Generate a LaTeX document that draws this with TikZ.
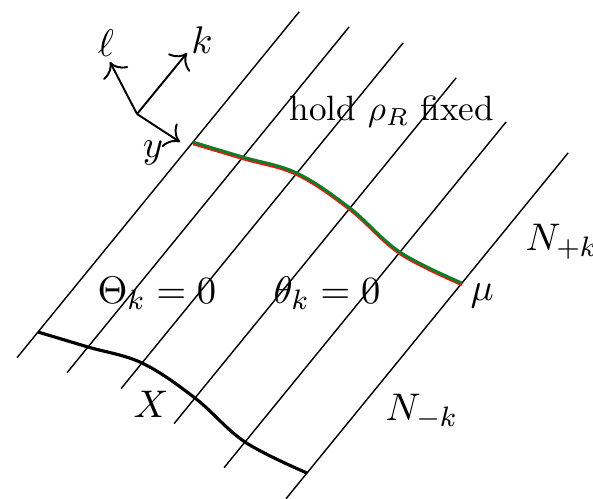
\documentclass[tikz,border=0pt]{standalone}
\usepackage{amsmath, amssymb}
\usepackage{xcolor}
\usepackage{tikz}
\usetikzlibrary{arrows.meta, positioning, calc}
\definecolor{slicegreen}{RGB}{15, 125, 35}
\definecolor{slicered}{RGB}{230, 25, 25}

\begin{document}
\begin{tikzpicture}[x=0.1mm, y=-0.1mm, >={To[scale=1.35]},
    lbl/.style={font=\fontsize{11}{13}\selectfont}]
  \useasboundingbox (0,0) rectangle (593,498);

  % Points where the upper slice crosses the null lines
  \coordinate (g1) at (193,142);
  \coordinate (g2) at (243,157);
  \coordinate (g3) at (297,173);
  \coordinate (g4) at (350,208);
  \coordinate (g5) at (400,252);
  \coordinate (g6) at (462,283);

  % Null lines, and the lower slice points on them
  \foreach \i in {1,...,6} {
    \coordinate (b\i) at ($(g\i)+(-155,190)$);
    \draw ($(b\i)!-0.135!(g\i)$) -- ($(g\i)!-0.685!(b\i)$);
  }

  % Slices
  \draw[slicered, line width=0.8pt]
    plot[smooth, tension=0.6] coordinates {([yshift=-0.5pt]g1) ([yshift=-0.5pt]g2)
      ([yshift=-0.5pt]g3) ([yshift=-0.5pt]g4) ([yshift=-0.5pt]g5) ([yshift=-0.5pt]g6)};
  \draw[slicegreen, line width=0.8pt]
    plot[smooth, tension=0.6] coordinates {(g1) (g2) (g3) (g4) (g5) (g6)};
  \draw[line width=0.9pt]
    plot[smooth, tension=0.6] coordinates {(b1) (b2) (b3) (b4) (b5) (b6)};

  % Axes
  \coordinate (o) at (137,114);
  \coordinate (ell) at (110,62);
  \coordinate (kk) at (187,53);
  \coordinate (yy) at (180,142);
  \draw[->, line width=0.55pt] (o) -- (ell);
  \draw[->, line width=0.55pt] (o) -- (kk);
  \draw[->, line width=0.55pt] (o) -- (yy);
  \node[lbl] (ell lbl) at (106,43) {$\ell$};
  \node[lbl] (k lbl) at (202,40) {$k$};
  \node[lbl, anchor=base] (y lbl) at (153,157) {$y$};

  % Labels
  \node[anchor=base] (hold) at (392,120) {hold $\rho_R$ fixed};
  \node[lbl, anchor=base] (Theta) at (157,303) {$\Theta_k = 0$};
  \node[lbl, anchor=base] (theta) at (327,303) {$\theta_k = 0$};
  \node[lbl, anchor=base] (X) at (151,417) {$X$};
  \node[lbl, anchor=base west, inner sep=0pt] (mu) at (470,300) {$\mu$};
  \node[lbl, anchor=base west, inner sep=0pt] (Nminus) at (385,420) {$N_{-k}$};
  \node[lbl, anchor=base west, inner sep=0pt] (Nplus) at (525,250) {$N_{+k}$};
\end{tikzpicture}
\end{document}
